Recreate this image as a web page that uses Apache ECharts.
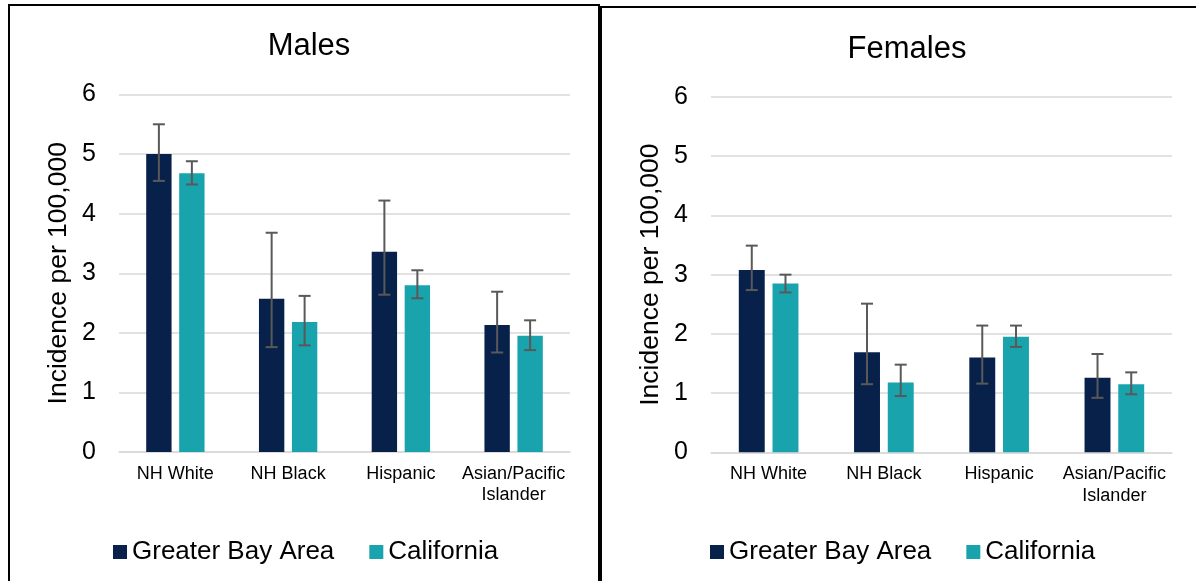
<!DOCTYPE html>
<html>
<head>
<meta charset="utf-8">
<script src="https://cdn.jsdelivr.net/npm/echarts@6/dist/echarts.min.js"></script>
<style>
  html, body { margin: 0; padding: 0; background: #fff; }
  #chart { width: 1196px; height: 581px; }
</style>
</head>
<body>
<div id="chart"></div>
<script>
// ── data ──
const categories = ["NH White", "NH Black", "Hispanic", "Asian/Pacific\nIslander"];
const yTicks = [0, 1, 2, 3, 4, 5, 6];

const maleBay = [5.00, 2.57, 3.36, 2.13];
const maleBayLow = [4.55, 1.76, 2.64, 1.67];
const maleBayHigh = [5.50, 3.68, 4.22, 2.69];
const maleCa = [4.68, 2.18, 2.80, 1.95];
const maleCaLow = [4.49, 1.79, 2.58, 1.71];
const maleCaHigh = [4.88, 2.62, 3.05, 2.21];

const femaleBay = [3.08, 1.69, 1.60, 1.26];
const femaleBayLow = [2.74, 1.15, 1.16, 0.92];
const femaleBayHigh = [3.49, 2.51, 2.14, 1.66];
const femaleCa = [2.85, 1.18, 1.95, 1.15];
const femaleCaLow = [2.70, 0.95, 1.78, 0.98];
const femaleCaHigh = [3.00, 1.48, 2.14, 1.35];

// ── styles ──
const FONT = "Liberation Sans, Arial, sans-serif";
const BAY_COLOR = "#08214A";
const CA_COLOR = "#19A3AD";
const GRID_COLOR = "#d9d9d9";
const ERR_COLOR = "#595959";
const BAR_W = 0.225;   // share of the category band
const BAR_GAP = 0.3;   // share of the bar width

const chart = echarts.init(document.getElementById("chart"));

function errorData(lows, highs) {
  return lows.map((lo, i) => [i, lo, highs[i]]);
}

// whisker drawn at the centre of the matching bar
function errorRender(side) {
  return function (params, api) {
    const band = api.size([1, 0])[0];
    const off = side * band * BAR_W * (1 + BAR_GAP) / 2;
    const lo = api.coord([api.value(0), api.value(1)]);
    const hi = api.coord([api.value(0), api.value(2)]);
    const x = lo[0] + off;
    const cap = 6;
    const style = { stroke: ERR_COLOR, lineWidth: 2 };
    return {
      type: "group",
      children: [
        { type: "line", shape: { x1: x, y1: hi[1], x2: x, y2: lo[1] }, style },
        { type: "line", shape: { x1: x - cap, y1: hi[1], x2: x + cap, y2: hi[1] }, style },
        { type: "line", shape: { x1: x - cap, y1: lo[1], x2: x + cap, y2: lo[1] }, style },
      ],
    };
  };
}

function xAxis(gridIndex) {
  return {
    type: "category",
    gridIndex,
    data: categories,
    axisLine: { lineStyle: { color: GRID_COLOR, width: 1.5 } },
    axisTick: { show: false },
    axisLabel: {
      color: "#000",
      fontFamily: FONT,
      fontSize: 18,
      lineHeight: 21.5,
      margin: 11,
      interval: 0,
    },
  };
}

function yAxis(gridIndex) {
  return {
    type: "value",
    gridIndex,
    min: yTicks[0],
    max: yTicks[yTicks.length - 1],
    interval: 1,
    name: "Incidence per 100,000",
    nameLocation: "middle",
    nameRotate: 90,
    nameGap: 47,
    nameTextStyle: { color: "#000", fontFamily: FONT, fontSize: 26.5 },
    axisLine: { show: false },
    axisTick: { show: false },
    axisLabel: { color: "#000", fontFamily: FONT, fontSize: 25, margin: 23 },
    splitLine: { lineStyle: { color: GRID_COLOR, width: 1.5 } },
  };
}

function barSeries(name, color, data, idx) {
  return {
    name,
    type: "bar",
    xAxisIndex: idx,
    yAxisIndex: idx,
    data,
    barWidth: (BAR_W * 100) + "%",
    barGap: (BAR_GAP * 100) + "%",
    itemStyle: { color },
    z: 2,
  };
}

function errSeries(lows, highs, side, idx) {
  return {
    type: "custom",
    xAxisIndex: idx,
    yAxisIndex: idx,
    data: errorData(lows, highs),
    renderItem: errorRender(side),
    silent: true,
    z: 5,
  };
}

function legend(left) {
  return {
    left,
    top: 534,
    itemWidth: 14,
    itemHeight: 14,
    itemGap: 35,
    icon: "rect",
    data: ["Greater Bay Area", "California"],
    textStyle: { color: "#000", fontFamily: FONT, fontSize: 26 },
  };
}

chart.setOption({
  animation: false,
  title: [
    {
      text: "Males",
      left: 304,
      top: 26,
      textAlign: "center",
      textStyle: { color: "#000", fontFamily: FONT, fontSize: 31, fontWeight: "normal" },
    },
    {
      text: "Females",
      left: 902,
      top: 29,
      textAlign: "center",
      textStyle: { color: "#000", fontFamily: FONT, fontSize: 31, fontWeight: "normal" },
    },
  ],
  legend: [legend(108), legend(705)],
  grid: [
    { left: 119, right: 626, top: 94.5, bottom: 129 },
    { left: 711, right: 24, top: 97, bottom: 128.7 },
  ],
  xAxis: [xAxis(0), xAxis(1)],
  yAxis: [yAxis(0), yAxis(1)],
  series: [
    barSeries("Greater Bay Area", BAY_COLOR, maleBay, 0),
    barSeries("California", CA_COLOR, maleCa, 0),
    barSeries("Greater Bay Area", BAY_COLOR, femaleBay, 1),
    barSeries("California", CA_COLOR, femaleCa, 1),
    errSeries(maleBayLow, maleBayHigh, -1, 0),
    errSeries(maleCaLow, maleCaHigh, 1, 0),
    errSeries(femaleBayLow, femaleBayHigh, -1, 1),
    errSeries(femaleCaLow, femaleCaHigh, 1, 1),
  ],
  // panel frames
  graphic: [
    {
      type: "rect",
      shape: { x: 9, y: 5, width: 590, height: 620 },
      style: { fill: "none", stroke: "#000", lineWidth: 2 },
      silent: true,
    },
    {
      type: "rect",
      shape: { x: 601, y: 7, width: 700, height: 620 },
      style: { fill: "none", stroke: "#000", lineWidth: 2 },
      silent: true,
    },
  ],
});
</script>
</body>
</html>
